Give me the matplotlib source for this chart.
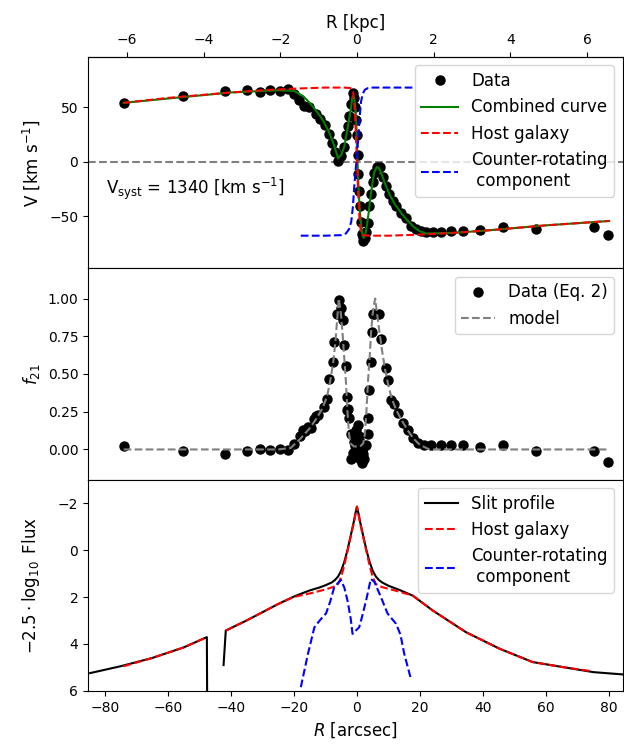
import numpy as np
import matplotlib
matplotlib.use('Agg')
import matplotlib.pyplot as plt

# ---- velocity panel: measured points (arcsec, km/s)
vel_r = [-73.9, -55.3, -41.9, -35.0, -30.7, -27.5, -24.3, -22.0, -19.9, -18.3,
         -16.9, -15.1, -13.0, -11.6, -10.2, -9.0, -7.9, -6.9, -6.1, -5.1,
         -4.0, -3.4, -2.9, -2.4, -1.9, -1.4, -0.9, -0.5, -0.2, 0.0,
         0.2, 0.4, 0.6, 0.9, 1.2, 1.6, 1.8, 2.0, 2.2, 2.4,
         2.9, 3.4, 3.9, 4.4, 5.0, 5.5, 6.3, 7.4, 8.2, 9.2,
         10.3, 11.3, 12.4, 14.0, 15.6, 17.1, 18.7, 20.3, 21.9, 24.0,
         26.7, 29.8, 33.7, 39.0, 46.2, 56.8, 75.1, 79.6]
vel_v = [54, 60.5, 65, 65.5, 64, 65.5, 64.5, 66.5, 62, 56.5,
         51.5, 50.5, 44, 39, 34, 25, 17, 9, 1, 5,
         13, 24, 33, 42, 53, 63, 58, 50, 38, 24,
         6, -11, -27, -41, -55, -66, -69, -73, -71, -70,
         -65, -56, -41, -30, -19, -10, -4.5, -5, -14, -22,
         -30, -36, -41, -47, -52, -59, -62, -64, -64.5, -64.5,
         -64.5, -64, -64, -63, -60, -62, -60, -67]

# combined curve
comb_r = [-74, -40, -25, -20, -17, -15, -13, -11, -9, -7.5, -6.5, -6, -5, -4, -3,
          -2, -1.4, -0.9, -0.5, -0.2, 0, 0.3, 0.6, 1.0, 1.4, 1.8, 2.2, 2.7, 3.2,
          3.8, 4.4, 5, 5.6, 6.3, 7, 8, 9, 10.5, 12, 14, 16, 18, 20, 22, 30, 40,
          50, 60, 70, 80]
comb_v = [54, 63.5, 65.5, 65, 60, 54, 47, 39, 28, 17, 8, 3, 6, 14, 30,
          47, 60, 59, 50, 35, 15, -10, -30, -48, -60, -68, -70, -66, -58,
          -45, -30, -18, -9, -5, -6, -13, -21, -31, -39, -47, -54, -60, -64, -66, -65.5, -63.5,
          -61, -58.5, -56.5, -54.5]

# host galaxy rotation
host_r = [-74, -60, -50, -40, -30, -20, -10, -4, -2, -1.2, -0.8, -0.4, 0,
          0.4, 0.8, 1.2, 2, 4, 10, 20, 30, 40, 50, 60, 70, 80]
host_v = [54, 58.5, 61, 63.5, 65.5, 67, 68, 68, 67.5, 64, 52, 30, 0,
          -30, -52, -64, -67.5, -68, -68, -67, -65.5, -63.5, -61, -58.5, -56.5, -54.5]

# counter-rotating component
cr_r = [-17.8, -10, -5, -3.5, -2.5, -1.8, -1.3, -0.9, -0.5, 0, 0.5, 0.9, 1.3,
        1.8, 2.5, 3.5, 5, 10, 17.8]
cr_v = [-68, -68, -67.5, -66, -62, -55, -42, -25, -10, 5, 25, 42, 55,
        62, 66, 67.5, 68, 68, 68]

# ---- f21 panel
f21_r = [-73.9, -55.3, -41.9, -35.0, -30.7, -27.5, -24.3, -21.8, -19.9, -18.0,
         -17.2, -16.5, -15.6, -14.6, -13.5, -13.0, -12.3, -10.6, -9.5, -8.8,
         -7.7, -7.2, -6.3, -5.8, -5.6, -5.1, -4.5, -4.2, -3.5, -3.2,
         -3.0, -2.7, -2.4, -1.9, -1.4, -0.8, -0.3, 0.4, 0.7, 1.3,
         1.6, 1.8, 2.3, 2.9, 3.4, 3.4, 3.9, 4.4, 4.7, 5.0,
         5.5, 7.1, 7.6, 9.2, 9.7, 10.8, 11.8, 12.9, 14.5, 16.1,
         17.7, 19.3, 21.4, 23.5, 26.7, 29.8, 33.7, 39.0, 46.2, 56.8,
         75.1, 79.6, -2.0, -1.0, 0.0, 1.0, 2.0, -0.5, 0.5]
f21_v = [0.02, -0.013, -0.03, -0.013, 0.002, -0.005, 0.002, -0.005, 0.035, 0.09,
         0.13, 0.12, 0.15, 0.145, 0.2, 0.22, 0.225, 0.28, 0.335, 0.47,
         0.58, 0.715, 0.9, 0.99, 0.9, 0.935, 0.86, 0.69, 0.55, 0.35,
         0.26, 0.27, 0.21, 0.1, -0.025, 0.05, 0.13, 0.16, 0.086, -0.035,
         -0.09, 0.01, -0.06, 0.03, 0.1, 0.21, 0.395, 0.58, 0.78, 0.9,
         0.9, 0.9, 0.73, 0.54, 0.46, 0.33, 0.3, 0.24, 0.175, 0.13,
         0.075, 0.046, 0.03, 0.027, 0.027, 0.027, 0.027, 0.013, 0.027, -0.007,
         -0.013, -0.084, -0.06, -0.04, 0.0, -0.06, -0.03, 0.02, 0.06]

model_r = [-74, -25, -21, -18, -15, -13, -11, -9.5, -8.5, -7.5, -6.8, -6.2, -5.8,
           -5.4, -5, -4.5, -4, -3.5, -3, -2.5, -2, -1, 0, 1, 2, 2.5, 3, 3.5, 4,
           4.5, 5, 5.5, 5.8, 6.2, 7, 8, 9, 10, 11, 12.5, 14, 16, 18, 20, 23, 80]
model_f = [0, 0, 0.01, 0.07, 0.14, 0.2, 0.27, 0.35, 0.45, 0.58, 0.72, 0.88, 1.0,
           0.95, 0.88, 0.75, 0.6, 0.45, 0.25, 0.1, 0.04, 0.02, 0.02, 0.02, 0.04, 0.1, 0.25, 0.45, 0.6,
           0.78, 0.9, 0.97, 1.0, 0.93, 0.8, 0.65, 0.52, 0.42, 0.34, 0.26, 0.2, 0.13, 0.07, 0.03, 0, 0]

# ---- flux panel (magnitudes, gap in slit profile)
slit_r = [-84.6, -75, -65, -55, -47.6, -47.5, np.nan, -42.3, -41.6, -35, -30, -25,
          -20, -15, -12, -10, -8, -7, -6, -5, -4, -3, -2, -1, -0.5, 0, 0.5, 1, 2, 3, 4,
          5, 6, 7, 8, 10, 13.5, 17.7, 24, 34.6, 45.2, 55.7, 66, 75, 84.6]
slit_m = [5.24, 4.95, 4.6, 4.15, 3.71, 6.5, np.nan, 4.9, 3.43, 3.0, 2.65, 2.3,
          1.98, 1.72, 1.6, 1.5, 1.38, 1.28, 1.13, 0.88, 0.5, 0.0, -0.6, -1.2, -1.55, -1.85,
          -1.55, -1.2, -0.6, 0.0, 0.5, 0.88, 1.13, 1.28, 1.38, 1.52, 1.7, 1.94, 2.57,
          3.5, 4.2, 4.77, 5.0, 5.2, 5.3]

hostf_r = [-74, -65, -55, -47.6, np.nan, -41.6, -35, -30, -25, -20, -15, -10, -7,
           -6, -5, -4, -3, -2, -1, 0, 1, 2, 3, 4, 5, 6, 8, 12, 17.7, 24,
           34.6, 45.2, 55.7, 66, 74]
hostf_m = [4.95, 4.6, 4.15, 3.71, np.nan, 3.43, 3.0, 2.65, 2.3, 2.0, 1.85, 1.68, 1.55,
           1.45, 1.15, 0.65, 0.05, -0.55, -1.15, -1.85, -1.15, -0.55, 0.05, 0.65, 1.15, 1.45,
           1.58, 1.72, 1.94, 2.57, 3.5, 4.2, 4.77, 5.0, 5.15]

crf_r = [-17.8, -15.5, -13.5, -11.5, -9.8, -8.5, -7.2, -5.1, -4, -3, -2, -1.4,
         0.7, 1.5, 2.9, 4.4, 5.5, 7.6, 9.7, 12.4, 13.8, 15, 17.1]
crf_m = [5.84, 4.4, 3.29, 2.95, 2.7, 2.2, 1.58, 1.27, 1.6, 2.15, 2.9, 3.57,
         3.29, 2.9, 2.15, 1.23, 1.35, 2.0, 2.7, 3.14, 3.6, 4.42, 5.48]

arcsec_to_kpc = 0.0822

fig, (ax1, ax2, ax3) = plt.subplots(3, 1, sharex=True, figsize=(6.24, 7.51), dpi=100,
                                    gridspec_kw=dict(hspace=0))
fig.subplots_adjust(left=0.141, right=0.998, top=0.924, bottom=0.080)

# top panel
ax1.axhline(0, color='gray', linestyle='--', linewidth=1.5, zorder=0)
ax1.plot(vel_r, vel_v, 'o', color='black', markersize=6.5, label='Data')
ax1.plot(comb_r, comb_v, '-', color='green', linewidth=1.5, label='Combined curve')
ax1.plot(host_r, host_v, '--', color='red', linewidth=1.5, label='Host galaxy')
ax1.plot(cr_r, cr_v, '--', color='blue', linewidth=1.5, label='Counter-rotating\n component')
ax1.text(-79.5, -25, r'V$_{\rm syst}$ = 1340 [km s$^{-1}$]', fontsize=12, va='center')
ax1.set_ylim(-98, 96)
ax1.set_ylabel(r'V [km s$^{-1}$]', fontsize=12)
ax1.legend(loc='upper right', fontsize=12, handlelength=2.2)

sec = ax1.secondary_xaxis('top', functions=(lambda x: x * arcsec_to_kpc,
                                             lambda x: x / arcsec_to_kpc))
sec.set_xticks([-6, -4, -2, 0, 2, 4, 6])
sec.set_xlabel('R [kpc]', fontsize=12)

# middle panel
ax2.plot(f21_r, f21_v, 'o', color='black', markersize=6.5, label='Data (Eq. 2)')
ax2.plot(model_r, model_f, '--', color='gray', linewidth=1.5, label='model')
ax2.set_ylim(-0.2, 1.2)
ax2.set_yticks([0, 0.25, 0.5, 0.75, 1.0])
ax2.set_ylabel(r'$f_{21}$', fontsize=12)
ax2.legend(loc='upper right', fontsize=12)

# bottom panel
ax3.plot(slit_r, slit_m, '-', color='black', linewidth=1.5, label='Slit profile')
ax3.plot(hostf_r, hostf_m, '--', color='red', linewidth=1.5, label='Host galaxy')
ax3.plot(crf_r, crf_m, '--', color='blue', linewidth=1.5, label='Counter-rotating\n component')
ax3.set_ylim(6, -3)
ax3.set_yticks([-2, 0, 2, 4, 6])
ax3.set_ylabel(r'$-2.5\cdot\log_{10}$ Flux', fontsize=12)
ax3.set_xlabel(r'$R$ [arcsec]', fontsize=12)
ax3.legend(loc='upper right', fontsize=12)
ax3.set_xlim(-85.3, 84.3)

fig.align_ylabels([ax1, ax2, ax3])
fig.savefig('out.png', dpi=100)
